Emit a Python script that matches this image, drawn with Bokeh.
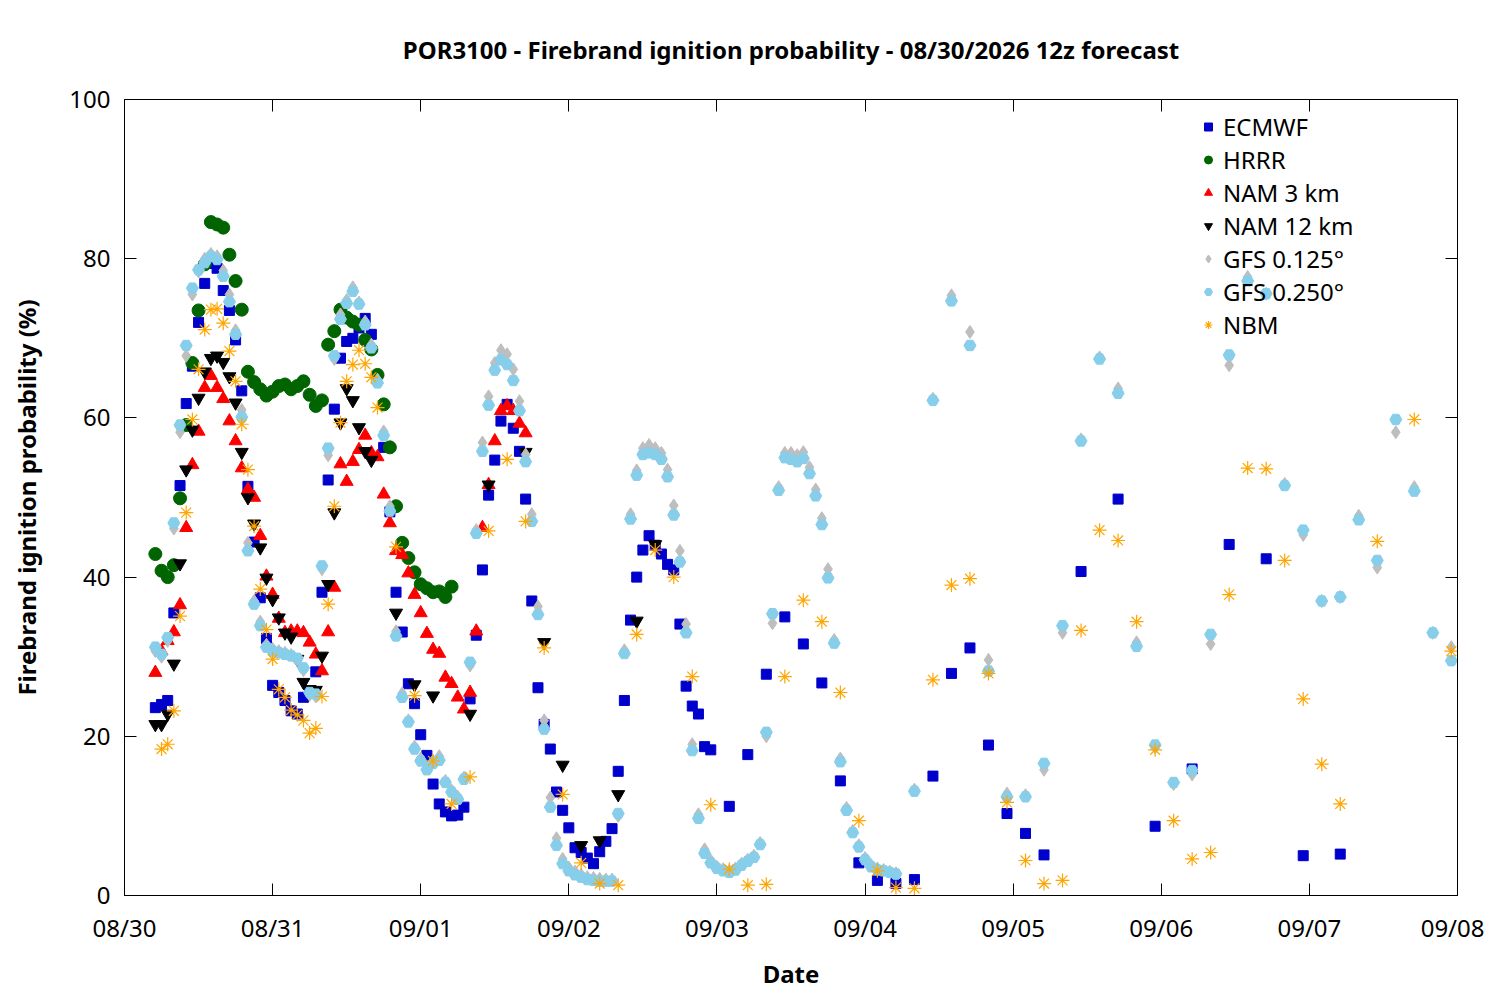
import numpy as np
from datetime import datetime
from bokeh.plotting import figure
from bokeh.models import (Range1d, FixedTicker, DatetimeTickFormatter, LinearAxis,
                          DatetimeAxis, Legend, LegendItem, CustomLabelingPolicy)
from bokeh.embed import file_html
from bokeh.resources import INLINE

# ---------------- data ----------------
START = "2026-08-30T00:00"          # hours below are counted from this local midnight
tick_dates = ["2026-08-30", "2026-08-31", "2026-09-01", "2026-09-02", "2026-09-03",
              "2026-09-04", "2026-09-05", "2026-09-06", "2026-09-07", "2026-09-08"]
y_ticks = [0, 20, 40, 60, 80, 100]

nan = float("nan")

ecmwf_hours = list(range(5, 96)) + list(range(98, 150, 3)) + list(range(155, 198, 6))
ecmwf = [23.6, 24.0, 24.5, 35.5, 51.5, 61.8, 66.5, 72.0, 76.9, 79.4,
         78.8, 76.0, 73.5, 69.8, 63.4, 51.4, 44.4, 37.4, 32.3, 26.4,
         25.5, 24.5, 23.2, 22.8, 24.9, 25.5, 28.1, 38.1, 52.2, 61.1,
         67.5, 69.6, 70.0, 71.3, 72.5, 70.5, nan, 56.3, 48.2, 38.1,
         33.1, 26.6, 24.1, 20.2, 17.6, 14.0, 11.5, 10.5, 10.0, 10.1,
         11.1, 24.7, 32.7, 40.9, 50.3, 54.7, 59.6, 61.7, 58.7, 55.8,
         49.8, 37.0, 26.1, 21.5, 18.4, 13.0, 10.7, 8.5, 6.0, 5.4,
         4.7, 4.0, 5.5, 6.8, 8.4, 15.6, 24.5, 34.6, 40.0, 43.4,
         45.2, 44.0, 42.9, 41.6, 40.9, 34.1, 26.3, 23.8, 22.8, 18.7,
         18.3,
         11.2, 17.7, 27.8, 35.0, 31.6, 26.7, 14.4, 4.1, 1.9, 1.5,
         2.0, 15.0, 27.9, 31.1, 18.9, 10.3, 7.8, 5.1,
         40.7, 49.8, 8.7, 15.9, 44.1, 42.3, 5.0, 5.2]

hrrr_hours = list(range(5, 54))
hrrr = [42.9, 40.8, 40.0, 41.5, 49.9, 59.1, 66.9, 73.5, 79.3, 84.6,
        84.3, 83.9, 80.5, 77.2, 73.6, 65.8, 64.5, 63.6, 62.8, 63.3,
        64.0, 64.2, 63.6, 64.0, 64.6, 62.9, 61.5, 62.2, 69.2, 70.9,
        73.6, 72.6, 72.1, 71.7, 69.8, 68.6, 65.4, 61.7, 56.3, 48.9,
        44.3, 42.4, 40.6, 39.1, 38.6, 38.1, 38.2, 37.5, 38.8]

nam3_hours = list(range(5, 66))
nam3 = [28.0, 30.7, 32.0, 33.1, 36.5, 46.2, 54.1, 58.3, 63.8, 65.3,
        63.8, 62.4, 59.6, 57.1, 53.7, 51.0, 50.0, 45.2, 40.1, 37.8,
        34.8, 33.0, 33.2, 33.2, 33.0, 31.8, 30.3, 28.2, 33.1, 38.7,
        54.2, 52.0, 54.5, 56.0, 57.8, 55.6, 55.1, 50.4, 46.8, 43.3,
        42.8, 40.5, 37.8, 35.5, 32.9, 30.9, 30.4, 27.4, 26.6, 24.9,
        23.4, 25.5, 33.2, 46.2, 51.6, 57.1, 60.9, 61.5, 60.9, 59.3,
        58.1]

nam12_hours = list(range(5, 41)) + list(range(44, 87, 3))
nam12 = [21.5, 21.5, 22.8, 29.1, 41.7, 53.5, 58.5, 62.5, 65.8, 67.5,
         67.8, 67.0, 65.2, 61.9, 55.7, 50.0, 46.7, 43.7, 39.9, 37.2,
         34.9, 33.0, 32.5, 29.7, 26.8, 25.9, 25.8, 30.1, 39.1, 48.1,
         59.4, 63.7, 62.2, 58.8, 55.8, 54.7,
         35.5, 26.5, 25.1, nan, 22.8, 51.6, nan, 55.7, 31.8, 16.4,
         6.3, 6.9, 12.7, 34.5, 44.1]

gfs_hours = list(range(5, 126)) + list(range(128, 216, 3))
gfs0125 = [30.7, 30.0, 32.0, 46.1, 58.2, 67.8, 75.5, 78.4, 80.0, 80.6,
           80.3, 78.5, 75.5, 71.0, 61.0, 44.3, 37.0, 34.4, 31.5, 31.0,
           30.7, 30.5, 30.2, 29.6, 28.3, 25.2, 25.0, 41.0, 55.3, 67.4,
           73.0, 74.8, 76.4, 74.5, 72.1, 69.2, 64.8, 58.3, 48.9, 33.2,
           25.4, 22.0, 18.7, 17.2, 16.1, 16.9, 17.5, 14.4, 13.2, 12.4,
           14.8, 28.9, 45.9, 56.9, 62.7, 66.9, 68.5, 68.0, 66.1, 62.1,
           55.4, 47.9, 36.3, 22.0, 12.3, 7.2, 4.6, 3.5, 3.0, 2.6,
           2.3, 2.2, 2.1, 2.0, 2.0, 10.0, 30.8, 47.9, 53.4, 56.2,
           56.6, 56.2, 55.6, 53.5, 49.0, 43.3, 34.1, 19.0, 10.2, 5.8,
           4.4, 3.6, 3.3, 3.1, 3.4, 4.0, 4.5, 5.0, 6.6, 20.0,
           34.2, 51.3, 55.6, 55.6, 55.3, 55.7, 53.8, 51.0, 47.4, 41.0,
           32.1, 17.2, 11.0, 8.1, 6.3, 4.7, 3.8, 3.4, 3.2, 3.0,
           2.8,
           13.3, 62.4, 75.4, 70.8, 29.6, 12.8, 12.6, 15.8, 33.0, 57.3,
           67.6, 63.7, 31.8, 18.6, 14.0, 15.2, 31.6, 66.6, 77.7, 75.6,
           51.7, 45.3, 37.0, 37.5, 47.7, 41.2, 58.2, 51.3, 33.0, 31.2]
gfs0250 = [31.2, 30.3, 32.4, 46.8, 59.1, 69.1, 76.3, 78.6, 79.5, 80.3,
           79.9, 77.8, 74.6, 70.5, 60.1, 43.3, 36.6, 33.9, 31.2, 30.7,
           30.5, 30.3, 30.1, 29.8, 28.6, 25.5, 25.3, 41.4, 56.2, 67.8,
           72.4, 74.4, 75.9, 74.3, 71.7, 68.8, 64.4, 57.8, 48.3, 32.6,
           24.9, 21.8, 18.4, 16.9, 15.8, 16.6, 17.0, 14.2, 13.0, 12.1,
           14.6, 29.3, 45.5, 55.8, 61.6, 66.0, 67.3, 66.7, 64.7, 60.9,
           54.5, 47.0, 35.3, 20.9, 11.1, 6.3, 4.0, 3.1, 2.6, 2.3,
           2.0, 1.9, 1.8, 1.8, 1.8, 10.3, 30.4, 47.3, 52.8, 55.4,
           55.6, 55.4, 54.8, 52.6, 47.8, 41.9, 33.0, 18.2, 9.7, 5.3,
           4.1, 3.4, 3.1, 2.9, 3.2, 3.8, 4.3, 4.8, 6.4, 20.5,
           35.4, 50.9, 55.0, 54.8, 54.5, 54.9, 53.0, 50.2, 46.6, 39.9,
           31.7, 16.8, 10.7, 7.9, 6.1, 4.5, 3.6, 3.2, 3.1, 2.9,
           2.7,
           13.1, 62.2, 74.7, 69.1, 28.2, 12.4, 12.4, 16.6, 33.9, 57.1,
           67.4, 63.1, 31.3, 18.9, 14.2, 15.7, 32.8, 67.9, 77.2, 75.6,
           51.5, 45.9, 37.0, 37.5, 47.2, 42.1, 59.8, 50.8, 33.0, 29.5]

nbm_hours = list(range(6, 42)) + list(range(44, 198, 3)) + list(range(203, 216, 6))
nbm = [18.4, 19.0, 23.2, 35.1, 48.1, 59.8, 66.1, 71.1, 73.6, 73.7,
       71.9, 68.4, 64.6, 59.2, 53.5, 46.4, 38.5, 33.4, 29.7, 25.9,
       24.9, 23.3, 22.7, 22.0, 20.4, 21.0, 25.0, 36.6, 48.9, 59.4,
       64.6, 66.7, 68.5, 66.8, 65.1, 61.3,
       43.8, 25.1, 16.9, 11.5, 14.9, 45.8, 54.8, 47.0, 31.1, 12.7,
       4.1, 1.5, 1.3, 32.8, 43.4, 40.0, 27.5, 11.4, 3.3, 1.3,
       1.4, 27.5, 37.1, 34.4, 25.5, 9.4, 3.1, 1.0, 0.9, 27.1,
       39.0, 39.8, 27.9, 11.7, 4.4, 1.5, 1.9, 33.3, 45.9, 44.6,
       34.4, 18.3, 9.4, 4.6, 5.4, 37.8, 53.7, 53.6, 42.1, 24.7,
       16.5, 11.5,
       44.5, 59.8, 30.7]

# ---------------- helpers ----------------
FONT = "Noto Sans"
FS = "24px"
t0 = np.datetime64(START)


def times(hours):
    return t0 + np.array(hours, dtype="timedelta64[h]")


def vals(v):
    return np.array(v, dtype=float)


tick_ms = [float((np.datetime64(d) - np.datetime64("1970-01-01")) / np.timedelta64(1, "ms"))
           for d in tick_dates]

p = figure(width=1484, height=992, x_axis_type="datetime",
           x_range=Range1d(datetime.fromisoformat(tick_dates[0]), datetime.fromisoformat(tick_dates[-1])),
           y_range=Range1d(y_ticks[0], y_ticks[-1]),
           output_backend="svg", toolbar_location=None,
           min_border_left=124, min_border_right=27, min_border_top=98, min_border_bottom=97)

p.title.text = "POR3100 - Firebrand ignition probability - 08/30/2026 12z forecast"
p.title.align = "center"
p.title.text_font = FONT
p.title.text_font_size = FS
p.title.text_font_style = "bold"
p.title.text_color = "black"
p.title.standoff = 60

p.xgrid.visible = False
p.ygrid.visible = False
p.outline_line_color = "black"
p.outline_line_width = 1
p.background_fill_color = "white"
p.border_fill_color = "white"

fmt = DatetimeTickFormatter(days="%m/%d", hours="%m/%d", hourmin="%m/%d", months="%m/%d",
                            strip_leading_zeros=False)


def style_axis(ax, show_labels=True):
    ax.major_tick_in = 12
    ax.major_tick_out = 0
    ax.minor_tick_line_color = None
    ax.axis_line_color = "black"
    ax.major_tick_line_color = "black"
    ax.major_label_text_font = FONT
    ax.major_label_text_color = "black"
    if show_labels:
        ax.major_label_text_font_size = FS
    else:
        # mirrored tick marks only (as on a boxed frame), no labels
        ax.major_label_text_font_size = "1px"
        ax.major_label_policy = CustomLabelingPolicy(code="")
        ax.major_label_standoff = 0


xa = p.xaxis[0]
xa.ticker = FixedTicker(ticks=tick_ms)
xa.formatter = fmt
xa.axis_label = "Date"
style_axis(xa)
xa.major_label_standoff = 15
xa.axis_label_text_font = FONT
xa.axis_label_text_font_size = FS
xa.axis_label_text_font_style = "bold"
xa.axis_label_text_color = "black"
xa.axis_label_standoff = 10

ya = p.yaxis[0]
ya.ticker = FixedTicker(ticks=y_ticks)
ya.axis_label = "Firebrand ignition probability (%)"
style_axis(ya)
ya.major_label_standoff = 14
ya.axis_label_text_font = FONT
ya.axis_label_text_font_size = FS
ya.axis_label_text_font_style = "bold"
ya.axis_label_text_color = "black"
ya.axis_label_standoff = 23

ra = LinearAxis(ticker=FixedTicker(ticks=y_ticks))
style_axis(ra, False)
p.add_layout(ra, "right")
ta = DatetimeAxis(ticker=FixedTicker(ticks=tick_ms), formatter=fmt)
style_axis(ta, False)
p.add_layout(ta, "above")

r_ec = p.scatter(times(ecmwf_hours), vals(ecmwf), marker="square", size=10,
                 fill_color="#0000cc", line_color="#0000cc")
r_hr = p.scatter(times(hrrr_hours), vals(hrrr), marker="circle", size=13,
                 fill_color="#006400", line_color="#006400")
r_n3 = p.scatter(times(nam3_hours), vals(nam3), marker="triangle", size=13,
                 fill_color="#ff0000", line_color="#ff0000")
r_n12 = p.scatter(times(nam12_hours), vals(nam12), marker="inverted_triangle", size=13,
                  fill_color="#000000", line_color="#000000")
r_g1 = p.scatter(times(gfs_hours), vals(gfs0125), marker="diamond", size=13,
                 fill_color="#bebebe", line_color="#bebebe")
r_g2 = p.scatter(times(gfs_hours), vals(gfs0250), marker="hex", size=12,
                 fill_color="#87ceeb", line_color="#87ceeb")
r_nb = p.scatter(times(nbm_hours), vals(nbm), marker="asterisk", size=14,
                 line_color="#ffa500", line_width=1.2)

legend = Legend(items=[LegendItem(label="ECMWF", renderers=[r_ec]),
                       LegendItem(label="HRRR", renderers=[r_hr]),
                       LegendItem(label="NAM 3 km", renderers=[r_n3]),
                       LegendItem(label="NAM 12 km", renderers=[r_n12]),
                       LegendItem(label="GFS 0.125°", renderers=[r_g1]),
                       LegendItem(label="GFS 0.250°", renderers=[r_g2]),
                       LegendItem(label="NBM", renderers=[r_nb])],
                location=(1074, 554), border_line_color=None, background_fill_alpha=0,
                label_text_font=FONT, label_text_font_size=FS, label_text_color="black",
                glyph_width=20, glyph_height=33, label_height=33, spacing=0,
                padding=8, margin=0)
p.add_layout(legend)

open("out.html", "w").write(file_html(p, INLINE))
